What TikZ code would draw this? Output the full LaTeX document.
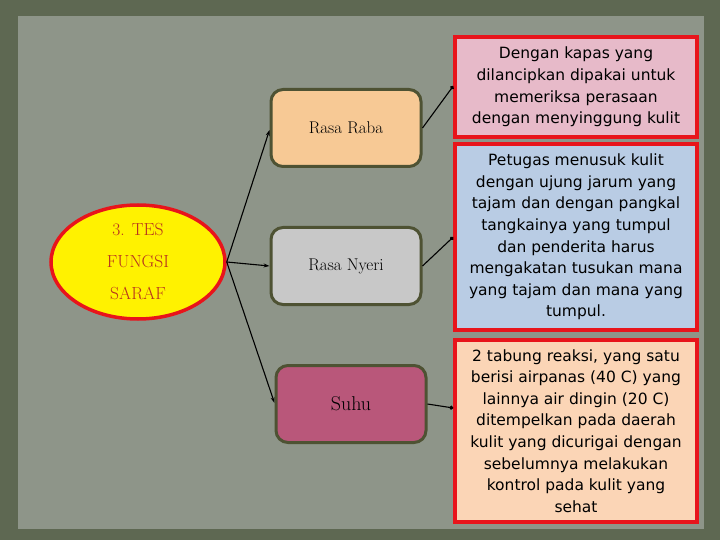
\documentclass[tikz,border=0pt]{standalone}
\usepackage{fontspec}
\newfontfamily\boxfont{DejaVu Sans}
\usetikzlibrary{shapes.geometric,arrows.meta}
\definecolor{bgdark}{HTML}{5E6852}
\definecolor{panel}{HTML}{8E9589}
\definecolor{olive}{HTML}{4E5233}
\definecolor{peach}{HTML}{F7C995}
\definecolor{lgray}{HTML}{C8C8C8}
\definecolor{rose}{HTML}{B9577A}
\definecolor{pinkbox}{HTML}{E7BAC9}
\definecolor{bluebox}{HTML}{B9CCE4}
\definecolor{peachbox}{HTML}{FBD5B6}
\definecolor{redb}{HTML}{E8141B}
\definecolor{titlered}{HTML}{B8321E}
\tikzset{
  x=1pt,y=-1pt,
  midbox/.style={draw=olive,line width=3pt,rounded corners=12pt,minimum width=150pt,minimum height=77pt,inner sep=0pt,font=\fontsize{17}{20}\selectfont},
  infobox/.style={draw=redb,line width=3.5pt,minimum width=242pt,inner sep=0pt,align=center,font=\boxfont\fontsize{15.5}{21.6}\selectfont},
  conn/.style={black,line width=1.1pt,-{Stealth[length=6pt,width=4pt]}},
  conndot/.style={black,line width=1.1pt,-{Circle[length=4pt]}}
}
\begin{document}
\begin{tikzpicture}
\useasboundingbox (0,0) rectangle (720,540);
\fill[bgdark] (0,0) rectangle (720,540);
\fill[panel] (18,16) rectangle (704,529);
\node[ellipse,draw=redb,fill=yellow,line width=3.5pt,minimum width=174pt,minimum height=114pt,inner sep=0pt,align=center,text=titlered,font=\fontsize{17.5}{32}\selectfont] (main) at (138,262) {3. TES\\FUNGSI\\SARAF};
\node[midbox,fill=peach] (raba) at (346,128) {Rasa Raba};
\node[midbox,fill=lgray] (nyeri) at (346,266) {Rasa Nyeri};
\node[midbox,fill=rose,font=\fontsize{20}{24}\selectfont] (suhu) at (351,404) {Suhu};
\node[infobox,fill=pinkbox,minimum height=100pt] (b1) at (576,87) {Dengan kapas yang\\dilancipkan dipakai untuk\\memeriksa perasaan\\dengan menyinggung kulit};
\node[infobox,fill=bluebox,minimum height=186pt] (b2) at (576,237) {Petugas menusuk kulit\\dengan ujung jarum yang\\tajam dan dengan pangkal\\tangkainya yang tumpul\\dan penderita harus\\mengakatan tusukan mana\\yang tajam dan mana yang\\tumpul.};
\node[infobox,fill=peachbox,minimum height=182pt] (b3) at (576,431) {2 tabung reaksi, yang satu\\berisi airpanas (40 C) yang\\lainnya air dingin (20 C)\\ditempelkan pada daerah\\kulit yang dicurigai dengan\\sebelumnya melakukan\\kontrol pada kulit yang\\sehat};
\coordinate (e) at (main.east);
\draw[conn] (e) -- ([yshift=-2pt]raba.west);
\draw[conn] (e) -- (nyeri.west);
\draw[conn] (e) -- ([yshift=1pt]suhu.west);
\draw[conndot] (raba.east) -- ([yshift=1pt]b1.west);
\draw[conndot] (nyeri.east) -- (b2.west);
\draw[conndot] (suhu.east) -- ([yshift=23pt]b3.west);
\end{tikzpicture}
\end{document}
